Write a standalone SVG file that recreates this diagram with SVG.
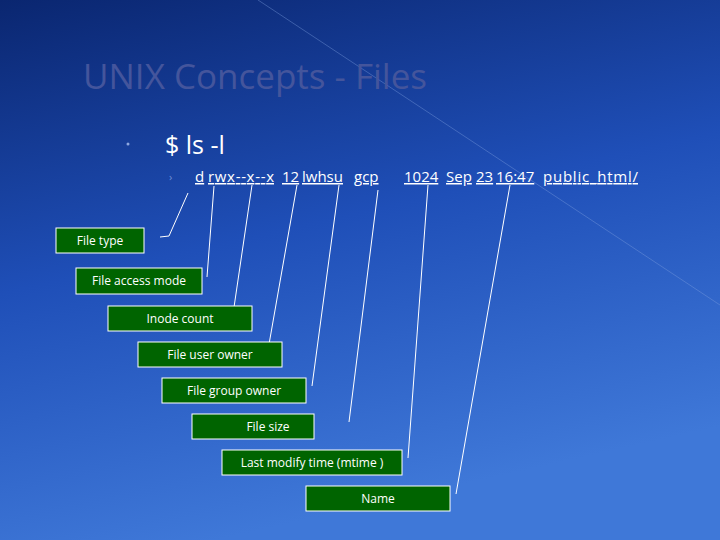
<svg xmlns="http://www.w3.org/2000/svg" width="720" height="540" viewBox="0 0 720 540">
<defs>
<linearGradient id="bg" x1="0" y1="0" x2="0.3" y2="1">
<stop offset="0" stop-color="#0a2670"/><stop offset="0.5" stop-color="#1f4fb8"/><stop offset="1" stop-color="#3f78d8"/>
</linearGradient>
<style>
.box{fill:#006400;stroke:#ffffff;stroke-width:1}
.bt{fill:#fff;font-family:"Open Sans","DejaVu Sans",sans-serif;font-size:12px;text-anchor:middle}
.ln{stroke:#fff;stroke-width:1;fill:none}
</style>
</defs>
<rect width="720" height="540" fill="url(#bg)"/>
<line x1="258" y1="0" x2="720" y2="305" stroke="#7fa0e0" stroke-width="1" opacity="0.4"/>
<text x="83" y="89" font-family="Open Sans, DejaVu Sans, sans-serif" font-size="35" fill="#44559c">UNIX Concepts - Files</text>
<circle cx="128" cy="144" r="1.5" fill="#8fa8e0"/>
<text x="165" y="154" font-family="Open Sans, DejaVu Sans, sans-serif" font-size="25" fill="#fff">$ ls -l</text>
<text x="169" y="181" font-family="Open Sans, DejaVu Sans, sans-serif" font-size="11" fill="#6f90d8">›</text>
<text y="182" font-family="Open Sans, DejaVu Sans, sans-serif" font-size="15" fill="#fff" text-decoration="underline"><tspan x="195">d</tspan><tspan x="208" textLength="66">rwx--x--x</tspan><tspan x="282">12</tspan><tspan x="302">lwhsu</tspan><tspan x="354">gcp</tspan><tspan x="404">1024</tspan><tspan x="446">Sep</tspan><tspan x="476">23</tspan><tspan x="496">16:47</tspan><tspan x="543" textLength="95">public_html/</tspan></text>
<g id="connectors">
<polyline class="ln" points="188,193 169,236 160,237"/>
<line class="ln" x1="214" y1="186" x2="207" y2="277"/>
<line class="ln" x1="252" y1="185" x2="233" y2="314"/>
<line class="ln" x1="297" y1="185" x2="268" y2="350"/>
<line class="ln" x1="339" y1="185" x2="312" y2="386"/>
<line class="ln" x1="378" y1="190" x2="349" y2="422"/>
<line class="ln" x1="428" y1="185" x2="408" y2="458"/>
<line class="ln" x1="510" y1="185" x2="456" y2="494"/>
</g>
<g id="n1"><rect class="box" x="56" y="228" width="88" height="25"/><text class="bt" x="100" y="245">File type</text></g>
<g id="n2"><rect class="box" x="76" y="268" width="126" height="26"/><text class="bt" x="139" y="285">File access mode</text></g>
<g id="n3"><rect class="box" x="108" y="306" width="144" height="25"/><text class="bt" x="180" y="323">Inode count</text></g>
<g id="n4"><rect class="box" x="138" y="342" width="144" height="25"/><text class="bt" x="210" y="359">File user owner</text></g>
<g id="n5"><rect class="box" x="162" y="378" width="144" height="25"/><text class="bt" x="234" y="395">File group owner</text></g>
<g id="n6"><rect class="box" x="192" y="414" width="122" height="25"/><text class="bt" x="268" y="431">File size</text></g>
<g id="n7"><rect class="box" x="222" y="450" width="180" height="25"/><text class="bt" x="312" y="467">Last modify time (mtime )</text></g>
<g id="n8"><rect class="box" x="306" y="486" width="144" height="25"/><text class="bt" x="378" y="503">Name</text></g>
</svg>
